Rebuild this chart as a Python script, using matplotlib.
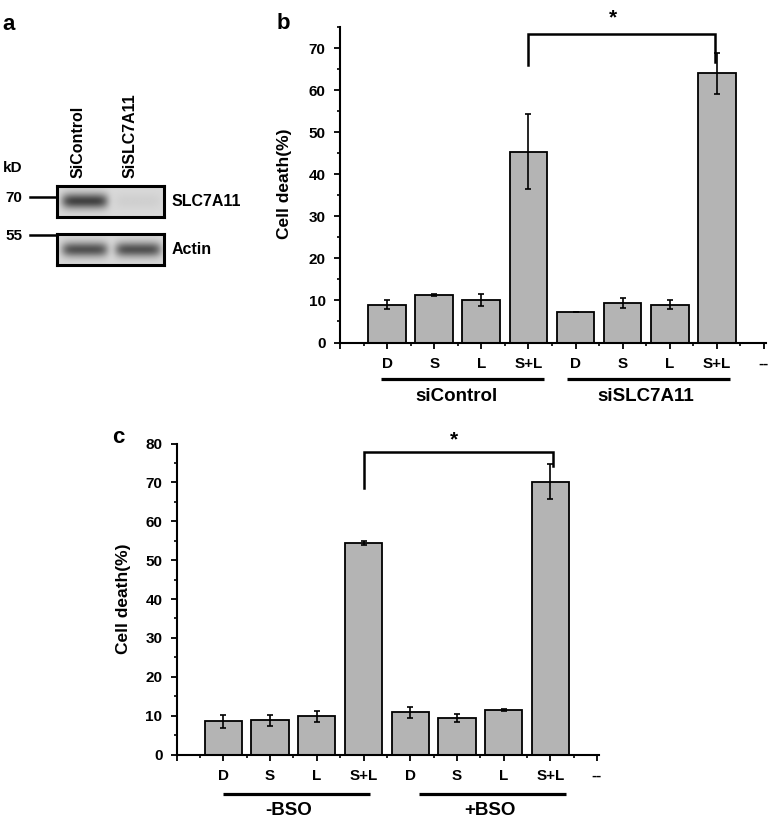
import matplotlib
matplotlib.use('Agg')
import matplotlib.pyplot as plt
from matplotlib.lines import Line2D
import numpy as np

plt.rcParams['font.family'] = ['Liberation Sans', 'DejaVu Sans']
plt.rcParams['font.weight'] = 'bold'

# ---- data ----
categories = ['D', 'S', 'L', 'S+L', 'D', 'S', 'L', 'S+L', '--']

# panel b: siRNA knockdown
b_values = [9.0, 11.3, 10.1, 45.4, 7.2, 9.3, 9.0, 64.0]
b_errors = [1.1, 0.3, 1.4, 9.0, 0.0, 1.2, 1.0, 4.8]
b_groups = ['siControl', 'siSLC7A11']

# panel c: BSO treatment
c_values = [8.5, 8.8, 9.8, 54.4, 10.9, 9.4, 11.4, 70.2]
c_errors = [1.6, 1.4, 1.4, 0.5, 1.4, 1.0, 0.2, 4.4]
c_groups = ['-BSO', '+BSO']

# panel a: western blot band intensities (relative)
blot_lanes = ['SiControl', 'SiSLC7A11']
slc7a11_band = [0.95, 0.06]
actin_band = [0.85, 0.85]
markers_kd = ['70', '55']

W, H = 769, 822
fig = plt.figure(figsize=(W / 100, H / 100), dpi=100)


def fx(px):
    return px / W


def fy(py):
    return 1 - py / H


BAR_COLOR = '#b4b4b4'


def bar_panel(rect, values, errors, ymax, groups, group_spans, group_text_x,
              line_y, text_y, bracket, star_xy):
    ax = fig.add_axes(rect)
    pos = np.arange(1, len(values) + 1)
    ax.bar(pos, values, width=0.8, color=BAR_COLOR, edgecolor='black',
           linewidth=1.3, yerr=errors, capsize=2.5,
           error_kw=dict(elinewidth=1.2, capthick=1.2, ecolor='black'), zorder=2)
    ax.set_xlim(0, 9.05)
    ax.set_ylim(0, ymax)
    ax.set_xticks(np.arange(0, 10))
    ax.set_xticklabels([''] + categories)
    ax.set_xticks(np.arange(0.5, 9, 1), minor=True)
    ax.set_yticks(np.arange(0, ymax + 1, 10))
    ax.set_yticks(np.arange(5, ymax + 1, 10), minor=True)
    for s in ['top', 'right']:
        ax.spines[s].set_visible(False)
    for s in ['left', 'bottom']:
        ax.spines[s].set_linewidth(1.5)
    ax.tick_params(axis='both', which='major', direction='out', length=4.3,
                   width=1.3, labelsize=11)
    ax.tick_params(axis='both', which='minor', direction='out', length=2.4,
                   width=1.2)
    ax.tick_params(axis='x', which='major', pad=6)
    ax.tick_params(axis='y', which='major', pad=6)
    for lab in ax.get_xticklabels() + ax.get_yticklabels():
        lab.set_fontweight('bold')

    # group underlines and names
    for name, (x0, x1), tx in zip(groups, group_spans, group_text_x):
        ax.plot([x0, x1], [line_y, line_y], color='black', lw=2.3,
                clip_on=False, solid_capstyle='butt')
        ax.text(tx, text_y, name, ha='center', va='center', fontsize=13.5,
                fontweight='bold', clip_on=False)

    # significance bracket
    bx, by = bracket
    ax.plot(bx, by, color='black', lw=1.8, clip_on=False,
            solid_joinstyle='miter')
    ax.text(star_xy[0], star_xy[1], '*', ha='center', va='center',
            fontsize=15, fontweight='bold', clip_on=False)
    return ax


# ---- panel b ----
b_left, b_zero, b_top = 340, 342.5, 27.2
bar_panel([fx(b_left), fy(b_zero), fx(9.05 * 47.1), (b_zero - b_top) / H],
          b_values, b_errors, 75, b_groups,
          [(0.87, 4.33), (4.81, 8.28)], [2.48, 6.5], -8.75, -12.9,
          ([4, 4, 7.97, 7.97], [66.0, 73.5, 73.5, 66.8]), (5.8, 77.2))
fig.text(fx(284), fy(184), 'Cell death(%)', rotation=90, ha='center',
         va='center', fontsize=12.5, fontweight='bold')
fig.text(fx(283.5), fy(23.5), 'b', ha='center', va='center', fontsize=16,
         fontweight='bold')

# ---- panel c ----
c_left, c_zero, c_top = 176.7, 754.5, 443.5
bar_panel([fx(c_left), fy(c_zero), fx(9.05 * 46.7), (c_zero - c_top) / H],
          c_values, c_errors, 80, c_groups,
          [(1.0, 4.13), (5.18, 8.33)], [2.4, 6.7], -10.15, -14.5,
          ([4, 4, 8.05, 8.05], [68.5, 77.7, 77.7, 74.1]), (5.93, 80.8))
fig.text(fx(123.3), fy(599), 'Cell death(%)', rotation=90, ha='center',
         va='center', fontsize=12.5, fontweight='bold')
fig.text(fx(118.8), fy(437), 'c', ha='center', va='center', fontsize=16,
         fontweight='bold')

# ---- panel a: western blot ----
fig.text(fx(9), fy(24), 'a', ha='center', va='center', fontsize=16,
         fontweight='bold')


def blot_image(intensities):
    xs = np.linspace(0, len(intensities), 260)
    ys = np.linspace(0, 1, 70)
    X, Y = np.meshgrid(xs, ys)
    img = np.full(X.shape, 0.85)
    for i, inten in enumerate(intensities):
        cx = i + 0.52
        band = np.exp(-((X - cx) / 0.43) ** 6) * np.exp(-((Y - 0.5) / 0.24) ** 2)
        img = img - 0.62 * inten * band
    return img


blot_left, blot_right = 57.3, 164
blots = [(185.7, 217.3, slc7a11_band, 'SLC7A11'),
         (234.3, 265.0, actin_band, 'Actin')]
for top, bottom, inten, name in blots:
    bax = fig.add_axes([fx(blot_left), fy(bottom), fx(blot_right - blot_left),
                        (bottom - top) / H])
    bax.imshow(blot_image(inten), cmap='gray', vmin=0, vmax=1,
               extent=[0, len(inten), 0, 1], aspect='auto',
               interpolation='bilinear')
    bax.set_xticks([])
    bax.set_yticks([])
    for s in bax.spines.values():
        s.set_linewidth(2.2)
    fig.text(fx(172), fy((top + bottom) / 2), name, ha='left', va='center',
             fontsize=11.5, fontweight='bold')

# lane labels
lane_px = [78.3, 130]
for lbl, xp in zip(blot_lanes, lane_px):
    fig.text(fx(xp), fy(178.5), lbl, rotation=90, ha='center', va='bottom',
             fontsize=11.5, fontweight='bold')

# molecular weight markers
fig.text(fx(12.5), fy(168), 'kD', ha='center', va='center', fontsize=11,
         fontweight='bold')
for mk, yp in zip(markers_kd, [197, 235]):
    fig.text(fx(14), fy(yp + 1), mk, ha='center', va='center', fontsize=11,
             fontweight='bold')
    fig.add_artist(Line2D([fx(30), fx(57)], [fy(yp), fy(yp)], lw=1.8,
                          color='black', transform=fig.transFigure))

fig.savefig('out.png', dpi=100)
